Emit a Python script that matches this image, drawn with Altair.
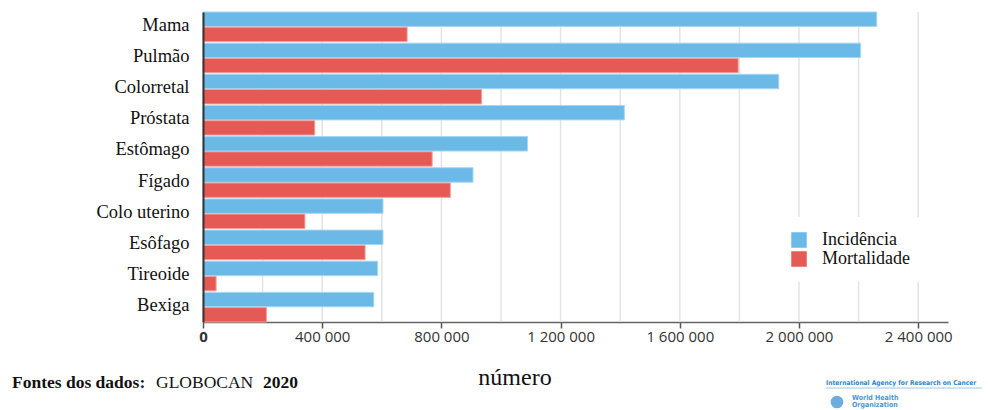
import altair as alt
import pandas as pd

# Cancer types (GLOBOCAN 2020), top ten by incidence
categorias = ["Mama", "Pulmão", "Colorretal", "Próstata", "Estômago",
              "Fígado", "Colo uterino", "Esôfago", "Tireoide", "Bexiga"]
incidencia = [2261000, 2207000, 1932000, 1414000, 1089000,
              906000, 604000, 604000, 586000, 573000]
mortalidade = [685000, 1796000, 935000, 375000, 769000,
               830000, 342000, 544000, 44000, 213000]
series = ["Incidência", "Mortalidade"]
x_ticks = [0, 400000, 800000, 1200000, 1600000, 2000000, 2400000]
x_grid = [200000, 400000, 600000, 800000, 1000000, 1200000, 1400000,
          1600000, 1800000, 2000000, 2200000, 2400000]

rows = []
for c, i, m in zip(categorias, incidencia, mortalidade):
    rows.append({"cancer": c, "serie": series[0], "valor": i})
    rows.append({"cancer": c, "serie": series[1], "valor": m})
df = pd.DataFrame(rows)

W, H = 745, 310
SERIF = "Liberation Serif"
SANS = "Open Sans"
LOGO_FONT = "DejaVu Sans Condensed"
fill_colors = ["#6BB9E6", "#E55A55"]
stroke_colors = ["#A6D6F2", "#F2A29E"]

x_scale = alt.Scale(domain=[0, 2500000], nice=False, zero=True)
x_axis = alt.Axis(values=x_ticks, grid=False, labelFont=SANS,
                  labelFontSize=15, labelColor="#333",
                  labelFontWeight={"condition": {"test": "datum.value == 0", "value": "bold"},
                                   "value": "normal"},
                  labelExpr="replace(format(datum.value, ','), regexp(',', 'g'), ' ')",
                  tickColor="#555", tickSize=6, tickWidth=1.5,
                  domainColor="#666", domainWidth=1.5, labelPadding=1,
                  labelFlush=False, title=None)

grid = alt.Chart(pd.DataFrame({"v": x_grid})).mark_rule(
    color="#E4E4E4", strokeWidth=1.5
).encode(
    x=alt.X("v:Q", scale=x_scale, axis=x_axis, title=None),
    y=alt.value(0), y2=alt.value(H),
)

bars = alt.Chart(df).mark_bar(strokeWidth=1).encode(
    y=alt.Y("cancer:N", sort=categorias, title=None,
            scale=alt.Scale(paddingInner=0.05, paddingOuter=0.0),
            axis=alt.Axis(labelFont=SERIF, labelFontSize=18.5, labelColor="#111",
                          labelPadding=14, ticks=False, domainColor="#333",
                          domainWidth=2, labelOffset=-2, labelLimit=200,
                          zindex=2)),
    yOffset=alt.YOffset("serie:N", sort=series,
                        scale=alt.Scale(domain=series, paddingInner=0.05)),
    x=alt.X("valor:Q", scale=x_scale, axis=x_axis, title=None),
    color=alt.Color("serie:N", sort=series,
                    scale=alt.Scale(domain=series, range=fill_colors),
                    legend=alt.Legend(title=None, orient="none", legendX=573,
                                      legendY=205, padding=14, fillColor="white",
                                      symbolType="square", symbolSize=240,
                                      symbolStrokeWidth=0, labelFont=SERIF,
                                      labelFontSize=18, labelColor="#111",
                                      labelOffset=14, rowPadding=1)),
    stroke=alt.Stroke("serie:N", sort=series,
                      scale=alt.Scale(domain=series, range=stroke_colors),
                      legend=None),
)

titulo_x = alt.Chart(pd.DataFrame({"t": ["número"]})).mark_text(
    font=SERIF, fontSize=24, color="#111", align="center", baseline="alphabetic"
).encode(text="t:N", x=alt.value(312), y=alt.value(373))

fonte_bold = alt.Chart(pd.DataFrame({"t": ["Fontes dos dados:"]})).mark_text(
    font=SERIF, fontSize=17.5, fontWeight="bold", color="#111", align="left",
    baseline="alphabetic"
).encode(text="t:N", x=alt.value(-191), y=alt.value(376))

fonte_nome = alt.Chart(pd.DataFrame({"t": ["GLOBOCAN"]})).mark_text(
    font=SERIF, fontSize=17.5, color="#111", align="left", baseline="alphabetic"
).encode(text="t:N", x=alt.value(-47), y=alt.value(376))

fonte_ano = alt.Chart(pd.DataFrame({"t": ["2020"]})).mark_text(
    font=SERIF, fontSize=17.5, fontWeight="bold", color="#111", align="left",
    baseline="alphabetic"
).encode(text="t:N", x=alt.value(60), y=alt.value(376))

iarc = alt.Chart(pd.DataFrame({"t": ["International Agency for Research on Cancer"]})).mark_text(
    font=LOGO_FONT, fontSize=6.6, fontWeight="bold", color="#2F86C8",
    align="left", baseline="middle"
).encode(text="t:N", x=alt.value(623), y=alt.value(371))

iarc_linha = alt.Chart(pd.DataFrame({"t": [0]})).mark_rule(
    color="#9CC8EA", strokeWidth=1
).encode(x=alt.value(623), x2=alt.value(779), y=alt.value(376))

who_emblema = alt.Chart(pd.DataFrame({"t": [0]})).mark_point(
    shape="circle", size=160, color="#4A97D4", filled=True, opacity=0.8
).encode(x=alt.value(634), y=alt.value(390))

who_texto = alt.Chart(pd.DataFrame({"t": ["World Health", "Organization"],
                                    "dy": [386, 393]})).mark_text(
    font=LOGO_FONT, fontSize=7, fontWeight="bold", color="#4A97D4",
    align="left", baseline="middle"
).encode(text="t:N", x=alt.value(649), y=alt.Y("dy:Q", scale=None))

chart = alt.layer(
    grid, bars, titulo_x, fonte_bold, fonte_nome, fonte_ano,
    iarc, iarc_linha, who_emblema, who_texto
).properties(
    width=W, height=H,
    autosize=alt.AutoSizeParams(type="none"),
    padding={"left": 203, "top": 12, "right": 40, "bottom": 88},
    background="white",
).configure_view(stroke=None)

chart.save("out.html", embed_options={"renderer": "svg", "actions": False})
